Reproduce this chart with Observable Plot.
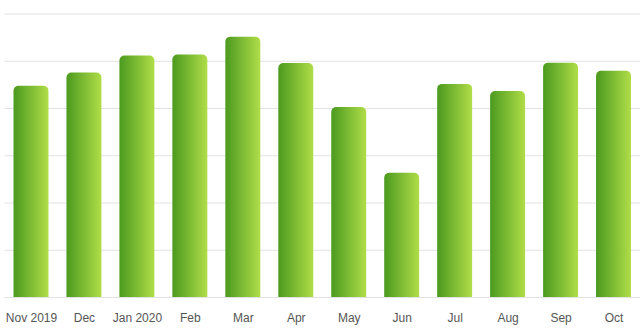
<!DOCTYPE html>
<html>
<head>
<meta charset="utf-8">
<script src="https://cdn.jsdelivr.net/npm/d3@7"></script>
<script src="https://cdn.jsdelivr.net/npm/@observablehq/plot@0.6"></script>
<style>
  html, body { margin: 0; padding: 0; background: #fff; }
  #chart svg { display: block; }
</style>
</head>
<body>
<div id="chart"></div>
<script>
const months = ["Nov 2019", "Dec", "Jan 2020", "Feb", "Mar", "Apr", "May", "Jun", "Jul", "Aug", "Sep", "Oct"];
const values = [4.47, 4.75, 5.11, 5.13, 5.51, 4.95, 4.02, 2.63, 4.51, 4.36, 4.96, 4.79];
const gridTicks = [0, 1, 2, 3, 4, 5, 6];

const data = months.map((m, i) => ({month: m, value: values[i]}));

const chart = Plot.plot({
  width: 640,
  height: 332,
  marginLeft: 4.5,
  marginRight: 0,
  marginTop: 13.5,
  marginBottom: 35,
  style: {fontFamily: "Liberation Sans, Helvetica, Arial, sans-serif", fontSize: "12px", color: "#555", background: "#fff"},
  x: {domain: months, paddingInner: 0.34, paddingOuter: 0.17, round: false, label: null},
  y: {domain: [0, 6], label: null},
  marks: [
    Plot.ruleY(gridTicks, {stroke: "#e2e2e2", strokeWidth: 1, strokeOpacity: 1}),
    Plot.axisY({ticks: [], line: true, stroke: "#dedede", label: null}),
    // extend below the baseline and clip so only the top corners are rounded
    Plot.barY(data, {x: "month", y1: -0.3, y2: "value", fill: "url(#barGrad)", rx: 5, clip: true}),
    Plot.axisX({tickSize: 0, tickPadding: 16, label: null, fill: "#555"})
  ]
});

const defs = document.createElementNS("http://www.w3.org/2000/svg", "defs");
defs.innerHTML = `<linearGradient id="barGrad" x1="0" y1="0" x2="1" y2="0">
  <stop offset="0" stop-color="#4b9a1f"/>
  <stop offset="1" stop-color="#b0dd48"/>
</linearGradient>`;
chart.insertBefore(defs, chart.firstChild);
document.getElementById("chart").appendChild(chart);
</script>
</body>
</html>
